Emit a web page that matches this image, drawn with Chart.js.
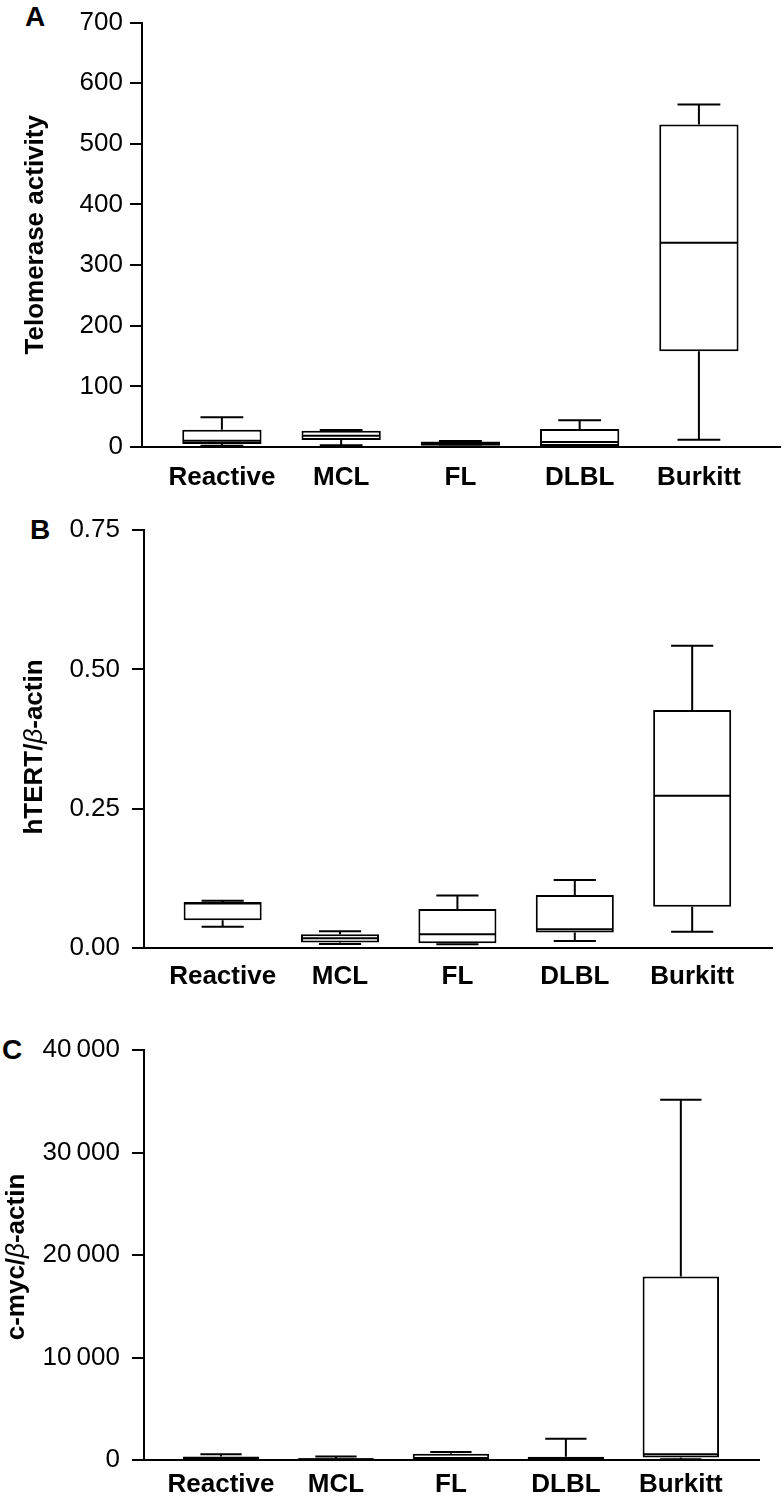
<!DOCTYPE html>
<html>
<head>
<meta charset="utf-8">
<script src="https://cdn.jsdelivr.net/npm/chart.js@4.4.1/dist/chart.umd.min.js"></script>
<style>
    body {
        margin: 0;
        background: #fff;
        width: 784px;
        height: 1502px;
        position: relative;
        overflow: hidden;
        font-family: 'Liberation Sans', Arial, sans-serif;
    }
    canvas { position: absolute; left: 0; }
    .panel-letter {
        position: absolute;
        font-weight: bold;
        font-size: 28px;
        line-height: 28px;
        color: #000;
    }
</style>
</head>
<body>
<div class="panel-letter" style="left:25px; top:3px;">A</div>
<div class="panel-letter" style="left:30px; top:516px;">B</div>
<div class="panel-letter" style="left:2px; top:1036px;">C</div>

<canvas id="telomeraseChart" width="784" height="500" style="top:0;"></canvas>
<canvas id="htertChart" width="784" height="500" style="top:500px;"></canvas>
<canvas id="cmycChart" width="784" height="502" style="top:1000px;"></canvas>

<script>
// Categories (x axis)
const categories = ['Reactive', 'MCL', 'FL', 'DLBL', 'Burkitt'];
const categoryTicks = [0, 1, 2, 3, 4];

// A - Telomerase activity
const telomeraseTicks = [0, 100, 200, 300, 400, 500, 600, 700];
const telomeraseMin = [2, 3, 1, 0.5, 12];
const telomeraseQ1 = [5, 11.5, 2, 1.6, 158];
const telomeraseMedian = [10.4, 18.6, 5, 8.2, 337];
const telomeraseQ3 = [28.4, 26.8, 9, 29.6, 532];
const telomeraseMax = [49, 28, 10, 44, 565];

// B - hTERT/beta-actin
const htertTicks = [0, 0.25, 0.5, 0.75];
const htertMin = [0.038, 0.007, 0.0066, 0.0126, 0.029];
const htertQ1 = [0.050, 0.010, 0.0084, 0.028, 0.074];
const htertMedian = [0.080, 0.0173, 0.0245, 0.0335, 0.273];
const htertQ3 = [0.0825, 0.0245, 0.070, 0.095, 0.427];
const htertMax = [0.085, 0.030, 0.094, 0.122, 0.5425];

// C - c-myc/beta-actin
const cmycTicks = [0, 10000, 20000, 30000, 40000];
const cmycMin = [0, 0, 50, 0, 80];
const cmycQ1 = [50, 30, 100, 20, 250];
const cmycMedian = [150, 80, 150, 100, 550];
const cmycQ3 = [330, 170, 600, 320, 17900];
const cmycMax = [560, 330, 780, 2080, 35150];

Chart.defaults.font.family = "'Liberation Sans', Arial, sans-serif";
Chart.defaults.color = '#000';

const boldFont = "bold 26px 'Liberation Sans', Arial, sans-serif";
const italicFont = "italic 26px 'Liberation Sans', Arial, sans-serif";

// Median line and whiskers, drawn through the y scale
const whiskerPlugin = {
    id: 'whiskers',
    afterDatasetsDraw(chart, args, opts) {
        const ctx = chart.ctx;
        const yScale = chart.scales.y;
        const meta = chart.getDatasetMeta(0);
        ctx.save();
        ctx.strokeStyle = '#000';
        ctx.lineWidth = 2;
        meta.data.forEach((bar, i) => {
            const { x, width } = bar.getProps(['x', 'width'], true);
            const half = width / 2;
            const cap = width * 0.27;
            const yMin = yScale.getPixelForValue(opts.min[i]);
            const yQ1 = yScale.getPixelForValue(opts.q1[i]);
            const yMed = yScale.getPixelForValue(opts.median[i]);
            const yQ3 = yScale.getPixelForValue(opts.q3[i]);
            const yMax = yScale.getPixelForValue(opts.max[i]);
            ctx.beginPath();
            ctx.moveTo(x - half + 1, yMed);
            ctx.lineTo(x + half - 1, yMed);
            ctx.moveTo(x, yQ3);
            ctx.lineTo(x, yMax);
            ctx.moveTo(x - cap, yMax);
            ctx.lineTo(x + cap, yMax);
            ctx.moveTo(x, yQ1);
            ctx.lineTo(x, yMin);
            ctx.moveTo(x - cap, yMin);
            ctx.lineTo(x + cap, yMin);
            ctx.stroke();
        });
        ctx.restore();
    }
};

// Rotated y axis title with mixed fonts (italic beta)
const axisTitlePlugin = {
    id: 'axisTitle',
    afterDraw(chart, args, opts) {
        const { ctx, chartArea } = chart;
        const yMid = (chartArea.top + chartArea.bottom) / 2 + (opts.shift || 0);
        ctx.save();
        ctx.translate(opts.x, yMid);
        ctx.rotate(-Math.PI / 2);
        ctx.textBaseline = 'middle';
        ctx.textAlign = 'left';
        ctx.fillStyle = '#000';
        let total = 0;
        opts.parts.forEach(p => {
            ctx.font = p.font;
            total += ctx.measureText(p.text).width;
        });
        let cx = -total / 2;
        opts.parts.forEach(p => {
            ctx.font = p.font;
            ctx.fillText(p.text, cx, 0);
            cx += ctx.measureText(p.text).width;
        });
        ctx.restore();
    }
};

function makeBoxChart(canvasId, stats, panel) {
    const boxData = categories.map((c, i) => ({ x: categoryTicks[i], y: [stats.q1[i], stats.q3[i]] }));
    return new Chart(document.getElementById(canvasId), {
        type: 'bar',
        data: {
            datasets: [{
                data: boxData,
                backgroundColor: '#fff',
                borderColor: '#000',
                borderWidth: 2,
                borderSkipped: false,
                barPercentage: 0.665,
                categoryPercentage: 1
            }]
        },
        options: {
            responsive: false,
            animation: false,
            devicePixelRatio: 1,
            layout: { padding: panel.padding },
            plugins: {
                legend: { display: false },
                tooltip: { enabled: false },
                whiskers: stats,
                axisTitle: { x: panel.titleX, shift: panel.titleShift, parts: panel.titleParts }
            },
            scales: {
                x: {
                    type: 'linear',
                    min: -0.67,
                    max: 4.68,
                    offset: false,
                    grid: { display: false, drawTicks: false },
                    border: { display: true, color: '#000', width: 2 },
                    afterBuildTicks: scale => {
                        scale.ticks = categoryTicks.map(v => ({ value: v }));
                    },
                    afterFit: scale => { scale.height = panel.xHeight; },
                    ticks: {
                        padding: panel.xPad,
                        maxRotation: 0,
                        autoSkip: false,
                        font: { size: 26, weight: 'bold' },
                        color: '#000',
                        callback: (value, index) => categories[index]
                    }
                },
                y: {
                    min: stats.ticks[0],
                    max: stats.ticks[stats.ticks.length - 1],
                    grid: {
                        display: true,
                        drawOnChartArea: false,
                        drawTicks: true,
                        tickLength: 12,
                        color: '#000',
                        lineWidth: 2
                    },
                    border: { display: true, color: '#000', width: 2 },
                    afterBuildTicks: scale => {
                        scale.ticks = stats.ticks.map(v => ({ value: v }));
                    },
                    afterFit: scale => { scale.width = panel.yWidth; },
                    ticks: {
                        padding: panel.yPad,
                        font: { size: 26 },
                        color: '#000',
                        callback: panel.format
                    }
                }
            }
        },
        plugins: [whiskerPlugin, axisTitlePlugin]
    });
}

function spaced(value) {
    return Math.round(value).toString().replace(/\B(?=(\d{3})+(?!\d))/g, '\u2009');
}

document.addEventListener('DOMContentLoaded', () => {
    makeBoxChart('telomeraseChart', {
        ticks: telomeraseTicks, min: telomeraseMin, q1: telomeraseQ1,
        median: telomeraseMedian, q3: telomeraseQ3, max: telomeraseMax
    }, {
        padding: { top: 21, right: 4, bottom: 0, left: 0 },
        yWidth: 142, xHeight: 53, yPad: 7, xPad: 15,
        titleX: 35.5, titleShift: 0,
        titleParts: [{ text: 'Telomerase activity', font: boldFont }],
        format: v => String(v)
    });

    makeBoxChart('htertChart', {
        ticks: htertTicks, min: htertMin, q1: htertQ1,
        median: htertMedian, q3: htertQ3, max: htertMax
    }, {
        padding: { top: 30, right: 12, bottom: 0, left: 0 },
        yWidth: 144, xHeight: 52, yPad: 12, xPad: 13,
        titleX: 34.5, titleShift: 8,
        titleParts: [
            { text: 'hTERT/', font: boldFont },
            { text: 'β', font: italicFont },
            { text: '-actin', font: boldFont }
        ],
        format: v => v.toFixed(2)
    });

    makeBoxChart('cmycChart', {
        ticks: cmycTicks, min: cmycMin, q1: cmycQ1,
        median: cmycMedian, q3: cmycQ3, max: cmycMax
    }, {
        padding: { top: 50, right: 25, bottom: 0, left: 0 },
        yWidth: 144, xHeight: 42, yPad: 12, xPad: 9,
        titleX: 16.5, titleShift: 2,
        titleParts: [
            { text: 'c-myc/', font: boldFont },
            { text: 'β', font: italicFont },
            { text: '-actin', font: boldFont }
        ],
        format: v => spaced(v)
    });
});
</script>
</body>
</html>
